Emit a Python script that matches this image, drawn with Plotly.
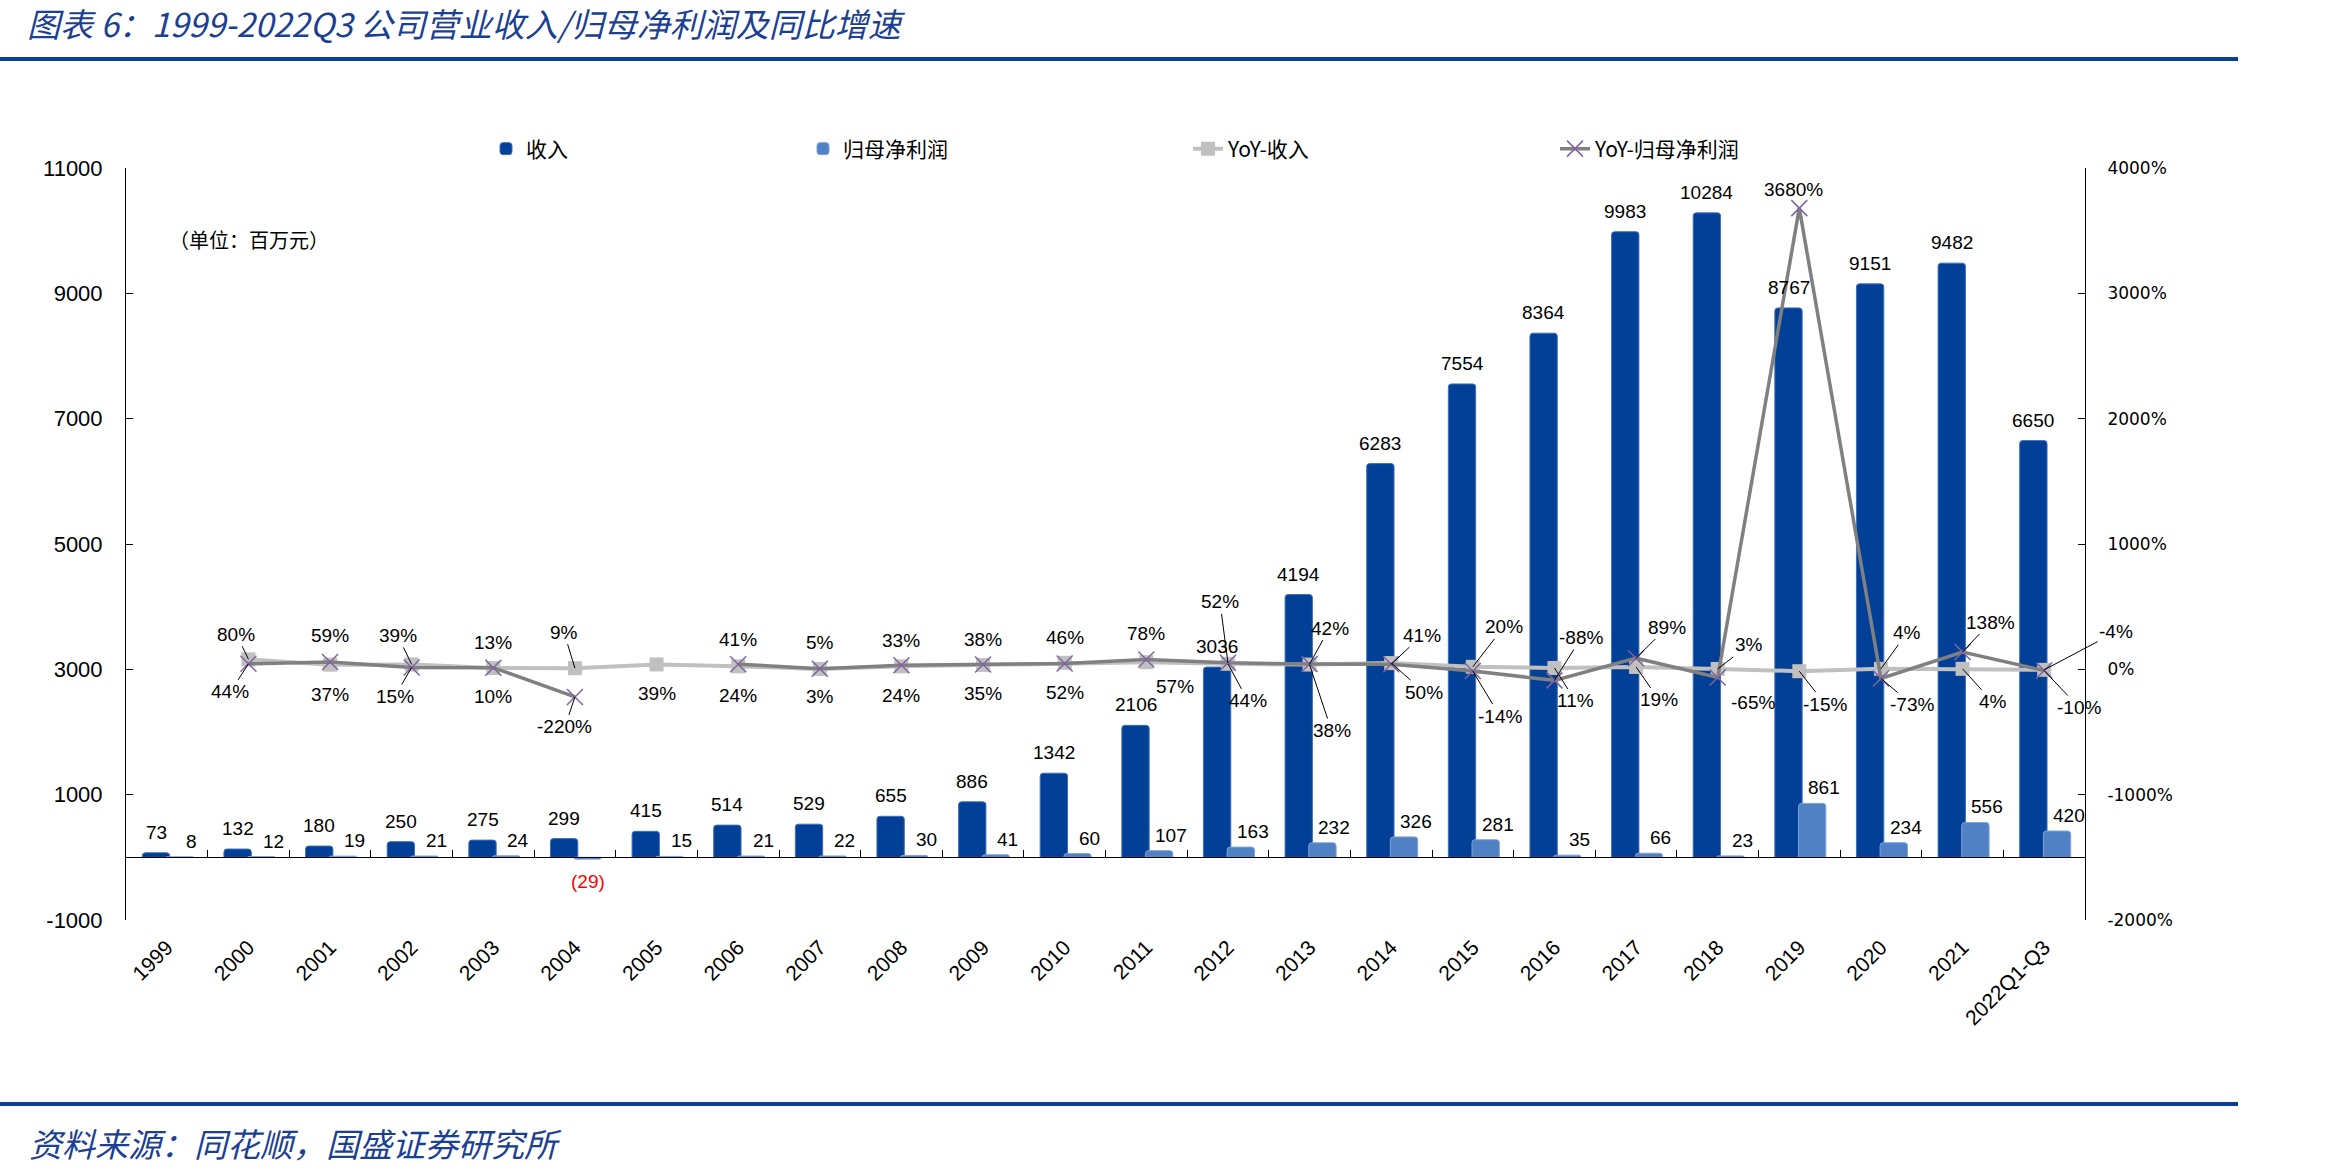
import plotly.graph_objects as go

# ---------------- data ----------------
categories = ['1999', '2000', '2001', '2002', '2003', '2004', '2005', '2006', '2007', '2008',
              '2009', '2010', '2011', '2012', '2013', '2014', '2015', '2016', '2017', '2018',
              '2019', '2020', '2021', '2022Q1-Q3']
revenue = [73, 132, 180, 250, 275, 299, 415, 514, 529, 655, 886, 1342, 2106, 3036, 4194,
           6283, 7554, 8364, 9983, 10284, 8767, 9151, 9482, 6650]
profit = [8, 12, 19, 21, 24, -29, 15, 21, 22, 30, 41, 60, 107, 163, 232, 326, 281, 35, 66,
          23, 861, 234, 556, 420]
rev_yoy = [None, 80, 37, 39, 10, 9, 39, 24, 3, 24, 35, 52, 57, 44, 38, 50, 20, 11, 19, 3,
           -15, 4, 4, -4]
profit_yoy = [None, 44, 59, 15, 13, -220, None, 41, 5, 33, 38, 46, 78, 52, 42, 41, -14, -88,
              89, -65, 3680, -73, 138, -10]
left_ticks = [-1000, 1000, 3000, 5000, 7000, 9000, 11000]
right_ticks = [-2000, -1000, 0, 1000, 2000, 3000, 4000]

# ---------------- label placement (pixel offsets: dx, dy, leader line) ----------------
rev_lbl = [None, (-12, -25, 1), (0, 30, 0), (-14, -29, 1), (0, 28, 0), (-11, -36, 1),
           (0, 29, 0), (0, 29, 0), (0, 28, 0), (0, 29, 0), (0, 29, 0), (0, 30, 0),
           (29, 24, 0), (20, 37, 1), (22, 66, 1), (33, 29, 1), (31, -40, 1), (21, 33, 1),
           (23, 33, 1), (31, -24, 1), (26, 33, 1), (26, -36, 1), (30, 33, 1), (72, -38, 1)]
pro_lbl = [None, (-18, 28, 1), (0, -26, 0), (-17, 29, 1), (0, -25, 0), (-10, 30, 1), None,
           (0, -25, 0), (0, -26, 0), (0, -25, 0), (0, -25, 0), (0, -26, 0), (0, -26, 0),
           (-8, -61, 1), (20, -36, 1), (31, -29, 1), (27, 45, 1), (27, -43, 1), (31, -31, 1),
           (35, 25, 0), (-6, -19, 0), (31, 26, 1), (28, -30, 1), (35, 37, 1)]

W, H = 2339, 1173
L, R, T, B = 126, 254, 168, 253
pos = list(range(len(categories)))

REV_C = '#023F97'
PRO_C = '#4F81C4'
NUM_FONT = 'Liberation Sans'
CJK_FONT = 'Noto Sans CJK SC'
BLUE_TXT = '#1B3F92'

rev_w, rev_off = 0.335, -0.30
pro_w, pro_off = 0.335, -0.01

fig = go.Figure()
fig.add_trace(go.Bar(x=pos, y=revenue, name='收入', width=rev_w, offset=rev_off,
                     marker=dict(color=REV_C, line=dict(color='#3F6FB8', width=1)),
                     legend='legend', hoverinfo='skip'))
fig.add_trace(go.Bar(x=pos, y=profit, name='归母净利润', width=pro_w, offset=pro_off,
                     marker=dict(color=PRO_C, line=dict(color='#7FA3D8', width=1)),
                     legend='legend2', hoverinfo='skip'))
fig.add_trace(go.Scatter(x=pos, y=rev_yoy, yaxis='y2', name='YoY-收入', mode='lines+markers',
                         line=dict(color='#C0C0C0', width=4),
                         marker=dict(symbol='square', size=14, color='#C0C0C0'),
                         legend='legend3', hoverinfo='skip'))
fig.add_trace(go.Scatter(x=pos, y=profit_yoy, yaxis='y2', name='YoY-归母净利润',
                         mode='lines+markers', line=dict(color='#808080', width=3.5),
                         marker=dict(symbol='x-thin', size=16,
                                     line=dict(color='#8064A2', width=1.5)),
                         legend='legend4', hoverinfo='skip'))
# invisible trace that carries the zero-line category axis
fig.add_trace(go.Scatter(x=pos, y=[None] * len(pos), xaxis='x2', showlegend=False,
                         hoverinfo='skip', mode='markers'))

ann = []
lab_font = dict(family=NUM_FONT, size=19, color='black')
for i, v in enumerate(revenue):
    ann.append(dict(x=i + rev_off + rev_w / 2, y=v, xref='x', yref='y', text=str(v),
                    showarrow=False, yanchor='bottom', yshift=8, font=lab_font))
for i, v in enumerate(profit):
    if v >= 0:
        ann.append(dict(x=i + pro_off + pro_w / 2, y=v, xref='x', yref='y', text=str(v),
                        showarrow=False, yanchor='bottom', yshift=3, xshift=12,
                        font=lab_font))
    else:
        ann.append(dict(x=i + pro_off + pro_w / 2, y=v, xref='x', yref='y',
                        text='(%d)' % abs(v), showarrow=False, yanchor='top', yshift=-10,
                        font=dict(family=NUM_FONT, size=19, color='#FF0000')))


def pct_labels(vals, offs):
    for i, v in enumerate(vals):
        if v is None or offs[i] is None:
            continue
        dx, dy, lead = offs[i]
        ann.append(dict(x=i, y=v, xref='x', yref='y2', text='%d%%' % v, showarrow=True,
                        ax=dx, ay=dy, arrowhead=0, arrowwidth=1, standoff=0,
                        arrowcolor='black' if lead else 'rgba(0,0,0,0)', font=lab_font))


pct_labels(rev_yoy, rev_lbl)
pct_labels(profit_yoy, pro_lbl)

pw = W - L - R
ph = H - T - B

# unit note
ann.append(dict(x=(167 - L) / pw, y=(H - B - 240) / ph, xref='paper',
                yref='paper', text='（单位：百万元）', showarrow=False, xanchor='left',
                yanchor='middle', font=dict(family=CJK_FONT, size=20, color='black')))
# footer
ann.append(dict(x=(27 - L) / pw, y=(H - B - 1143) / ph, xref='paper', yref='paper',
                text='资料来源：同花顺，国盛证券研究所', showarrow=False, xanchor='left',
                yanchor='middle',
                font=dict(family=CJK_FONT, size=33, color=BLUE_TXT, style='italic')))

shapes = [
    dict(type='line', xref='paper', yref='paper', x0=(0 - L) / pw, x1=(2238 - L) / pw,
         y0=(H - B - 59) / ph, y1=(H - B - 59) / ph, line=dict(color='#0B3F93', width=4)),
    dict(type='line', xref='paper', yref='paper', x0=(0 - L) / pw, x1=(2238 - L) / pw,
         y0=(H - B - 1104) / ph, y1=(H - B - 1104) / ph, line=dict(color='#0B3F93', width=4)),
]

leg_common = dict(orientation='h', xref='container', yref='container', yanchor='middle',
                  y=1 - 149 / H, bgcolor='rgba(0,0,0,0)',
                  font=dict(family=CJK_FONT, size=21, color='black'))

fig.update_layout(
    width=W, height=H,
    margin=dict(l=L, r=R, t=T, b=B, autoexpand=False),
    paper_bgcolor='white', plot_bgcolor='white',
    barmode='overlay', barcornerradius=3,
    title=dict(text='图表 6：1999-2022Q3 公司营业收入/归母净利润及同比增速', x=27 / W,
               xanchor='left', y=1 - 25 / H, yanchor='middle', xref='container',
               yref='container',
               font=dict(family=CJK_FONT, size=33, color=BLUE_TXT, style='italic')),
    xaxis=dict(range=[-0.5, len(categories) - 0.5], tickvals=pos, ticktext=categories,
               tickangle=-45, showline=False, ticks='', showgrid=False, zeroline=False,
               tickfont=dict(family=NUM_FONT, size=21, color='black'),
               ticklabelstandoff=10, automargin=False),
    xaxis2=dict(range=[-0.5, len(categories) - 0.5], overlaying='x', anchor='free',
                position=(0 - left_ticks[0]) / (left_ticks[-1] - left_ticks[0]),
                tickvals=[p + 0.5 for p in pos[:-1]], ticks='inside', ticklen=7,
                tickcolor='black', showticklabels=False, showline=True, linecolor='black',
                linewidth=1, showgrid=False, zeroline=False, automargin=False),
    yaxis=dict(range=[left_ticks[0], left_ticks[-1]], tickvals=left_ticks,
               ticktext=[str(t) for t in left_ticks], showline=True,
               linecolor='black', linewidth=1, ticks='inside', ticklen=7, tickcolor='black',
               showgrid=False, zeroline=False, ticklabelstandoff=18,
               tickfont=dict(family=NUM_FONT, size=22, color='black'), automargin=False),
    yaxis2=dict(range=[right_ticks[0], right_ticks[-1]], tickvals=right_ticks,
                ticktext=['%d%%' % t for t in right_ticks], overlaying='y', side='right',
                showline=True, linecolor='black', linewidth=1, ticks='inside', ticklen=7,
                tickcolor='black', showgrid=False, zeroline=False, ticklabelstandoff=18,
                tickfont=dict(family='DejaVu Sans', size=17, color='black'),
                automargin=False),
    legend=dict(leg_common, x=486 / W),
    legend2=dict(leg_common, x=803 / W),
    legend3=dict(leg_common, x=1188 / W),
    legend4=dict(leg_common, x=1555 / W),
    annotations=ann,
    shapes=shapes,
    showlegend=True,
)

fig.write_html('out.html')
